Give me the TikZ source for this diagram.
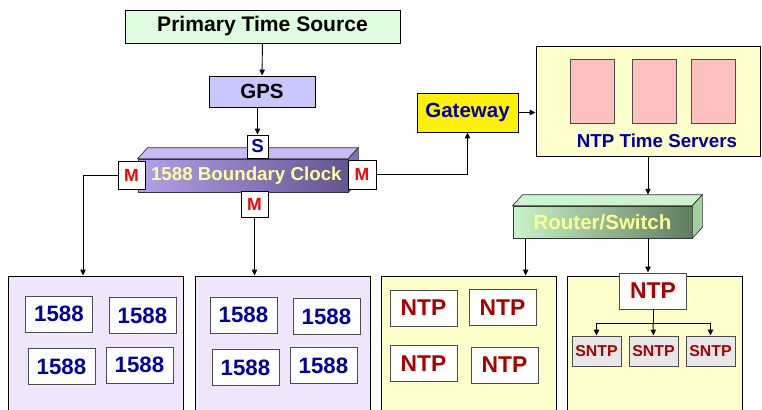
\documentclass[tikz,border=0pt]{standalone}
\usepackage{fontspec}
\setmainfont{Liberation Sans}
\usetikzlibrary{arrows.meta,positioning,calc}

\definecolor{srcgreen}{RGB}{222,252,222}
\definecolor{gpsblue}{RGB}{200,200,255}
\definecolor{txtblue}{RGB}{0,0,165}
\definecolor{txtred}{RGB}{170,0,0}
\definecolor{lavpanel}{RGB}{242,230,255}
\definecolor{ylwpanel}{RGB}{255,255,204}
\definecolor{srvpink}{RGB}{255,192,192}
\definecolor{bclight}{RGB}{178,160,236}
\definecolor{bcdark}{RGB}{100,84,145}
\definecolor{bctop}{RGB}{200,186,242}
\definecolor{bcside}{RGB}{130,110,185}
\definecolor{rtlight}{RGB}{200,245,200}
\definecolor{rtdark}{RGB}{95,125,95}
\definecolor{rttop}{RGB}{205,245,205}
\definecolor{rtside}{RGB}{160,210,160}
\definecolor{lblyellow}{RGB}{255,255,150}

\begin{document}
\begin{tikzpicture}[
    x=0.3mm, y=-0.3mm,
    >={Triangle[length=5pt,width=4.5pt]},
    line width=0.8pt,
    box/.style={rectangle, draw=black!70, fill=white, inner sep=0pt, font=\bfseries},
    topbox/.style={box, draw=black, font=\fontsize{17.5pt}{20pt}\selectfont\bfseries},
    panel/.style={rectangle, draw=black, minimum width=5.25cm, minimum height=4.32cm},
    ptpbox/.style={box, minimum width=2.01cm, minimum height=1.08cm, text=txtblue, font=\fontsize{19pt}{20pt}\selectfont\bfseries},
    ntpbox/.style={box, minimum width=2.01cm, minimum height=1.08cm, text=txtred, font=\fontsize{19.5pt}{20pt}\selectfont\bfseries},
    sntpbox/.style={box, fill=black!9, minimum width=1.47cm, minimum height=0.9cm, text=txtred, font=\fontsize{13.5pt}{15pt}\selectfont\bfseries},
    portbox/.style={box, draw=black, text=red, font=\fontsize{15pt}{17pt}\selectfont\bfseries},
    srvbox/.style={rectangle, draw=black!70, fill=srvpink, minimum width=1.32cm, minimum height=1.92cm},
    face/.style={draw=black!80, line width=0.6pt},
]
\useasboundingbox (0,0) rectangle (762,410);
\clip (0,0) rectangle (762,410);

% top of the chain
\node[topbox, fill=srcgreen, minimum width=8.25cm, minimum height=0.99cm, font=\fontsize{18pt}{20pt}\selectfont\bfseries] (pts) at (262.5,26.5) {Primary Time Source};
\node[topbox, fill=gpsblue, minimum width=3.18cm, minimum height=0.93cm] (gps) at (262,91.5) {GPS};

% boundary clock (3d box)
\node[face, left color=bclight, right color=bcdark, minimum width=6.3cm, minimum height=0.99cm, inner sep=0pt,
      text=lblyellow, font=\fontsize{16pt}{18pt}\selectfont\bfseries] (bc) at (243,175.5) {\hspace*{0.2cm}1588 Boundary Clock};
\filldraw[face, fill=bctop] (bc.north west) -- ++(10,-11) -- ($(bc.north east)+(10,-11)$) -- (bc.north east) -- cycle;
\filldraw[face, fill=bcside] (bc.north east) -- ++(10,-11) -- ($(bc.south east)+(10,-11)$) -- (bc.south east) -- cycle;

\node[portbox, text=txtblue, font=\fontsize{16pt}{18pt}\selectfont\bfseries, minimum width=0.63cm, minimum height=0.69cm] (s) at (257.5,146.5) {S};
\node[portbox, minimum width=0.81cm, minimum height=0.84cm] (ml) at (131.5,175) {M};
\node[portbox, minimum width=0.84cm, minimum height=0.87cm] (mr) at (362,174.5) {M};
\node[portbox, minimum width=0.81cm, minimum height=0.78cm] (mb) at (254.5,204) {M};

% gateway and servers
\node[topbox, fill=yellow, text=txtblue, minimum width=3.03cm, minimum height=1.17cm] (gw) at (467.5,112.5) {Gateway};
\node[rectangle, draw=black, fill=ylwpanel, minimum width=6.72cm, minimum height=3.3cm] (nts) at (648,101) {};
\node[srvbox] (sv1) at (592,91) {};
\node[srvbox] (sv2) at (654,91) {};
\node[srvbox] (sv3) at (713,91) {};
\node[text=txtblue, font=\fontsize{16pt}{18pt}\selectfont\bfseries] (ntslbl) at (657,141) {NTP Time Servers};

% router (3d box)
\node[face, left color=rtlight, right color=rtdark, minimum width=5.37cm, minimum height=0.96cm, inner sep=0pt,
      text=lblyellow, font=\fontsize{17.5pt}{19pt}\selectfont\bfseries] (rt) at (602.5,222) {Router/Switch};
\filldraw[face, fill=rttop] (rt.north west) -- ++(10,-11) -- ($(rt.north east)+(10,-11)$) -- (rt.north east) -- cycle;
\filldraw[face, fill=rtside] (rt.north east) -- ++(10,-11) -- ($(rt.south east)+(10,-11)$) -- (rt.south east) -- cycle;
\coordinate (rtback) at ($(rt.north)+(0,-11)$);

% end-node panels
\node[panel, fill=lavpanel] (p1) at (95.5,348) {};
\node[panel, fill=lavpanel] (p2) at (282.5,348) {};
\node[panel, fill=ylwpanel] (p3) at (468.5,348) {};
\node[panel, fill=ylwpanel] (p4) at (654.5,348) {};

\node[ptpbox] (a1) at (59,314) {1588};
\node[ptpbox] (a2) at (142.5,315.5) {1588};
\node[ptpbox] (a3) at (61.5,366.5) {1588};
\node[ptpbox] (a4) at (139.5,365) {1588};

\node[ptpbox] (b1) at (243.5,315) {1588};
\node[ptpbox] (b2) at (326.5,316.5) {1588};
\node[ptpbox] (b3) at (245.5,367.5) {1588};
\node[ptpbox] (b4) at (323.5,365.5) {1588};

\node[ntpbox] (c1) at (423.5,308) {NTP};
\node[ntpbox] (c2) at (502.5,307.5) {NTP};
\node[ntpbox] (c3) at (423.5,363.5) {NTP};
\node[ntpbox] (c4) at (504.5,365) {NTP};

\node[ntpbox] (np) at (653,291) {NTP};
\node[sntpbox] (sn1) at (596.5,351) {SNTP};
\node[sntpbox] (sn2) at (653.5,351) {SNTP};
\node[sntpbox] (sn3) at (710.5,351) {SNTP};

% connectors
\coordinate (jl) at (83,175);
\coordinate (br) at (653,323);
\draw[->] (pts) -- (gps);
\draw[->] (s |- gps.south) -- (s.north);
\draw[->] (ml.west) -- (jl) -- (jl |- p1.north);
\draw[->] (mb.south) -- (mb.south |- p2.north);
\draw[->] (mr.east) -| (gw.south);
\draw[->] (gw.east) -- (gw.east -| nts.west);
\draw[->] (nts.south) -- (nts.south |- rtback);
\draw[->] ([xshift=0.39cm]rt.south west) -- ([xshift=0.39cm]rt.south west |- p3.north);
\draw[->] (nts.south |- rt.south) -- (nts.south |- np.north);
\draw (np.south) -- (br);
\draw[->] (br) -| (sn1.north);
\draw[->] (br) -- (sn2.north);
\draw[->] (br) -| (sn3.north);
\end{tikzpicture}
\end{document}
